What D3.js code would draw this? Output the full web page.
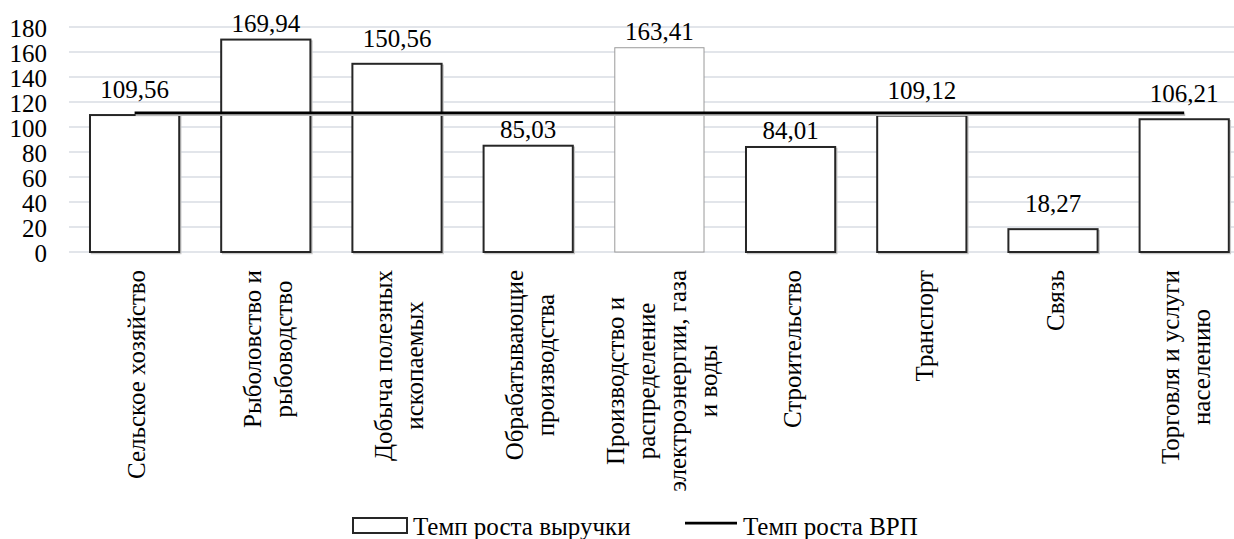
<!DOCTYPE html>
<html><head><meta charset="utf-8">
<script src="https://cdn.jsdelivr.net/npm/d3@7"></script>
<style>html,body{margin:0;padding:0;background:#fff;}svg{display:block;}
#chart{font-family:"Times New Roman","Liberation Serif",Tinos,serif;font-size:25px;}</style>
</head><body>
<svg id="chart" width="1234" height="539"></svg>
<script>
const categories = [
  ["Сельское хозяйство"],
  ["Рыболовство и", "рыбоводство"],
  ["Добыча полезных", "ископаемых"],
  ["Обрабатывающие", "производства"],
  ["Производство и", "распределение", "электроэнергии, газа", "и воды"],
  ["Строительство"],
  ["Транспорт"],
  ["Связь"],
  ["Торговля и услуги", "населению"]
];
const revenueGrowth = [109.56, 169.94, 150.56, 85.03, 163.41, 84.01, 109.12, 18.27, 106.21];
const grpGrowth = [111.4, 111.4, 111.4, 111.4, 111.4, 111.4, 111.4, 111.4, 111.4];
const yTicks = [0, 20, 40, 60, 80, 100, 120, 140, 160, 180];
const seriesNames = ["Темп роста выручки", "Темп роста ВРП"];

const FS = 25;
const svg = d3.select("#chart");
const ids = d3.range(categories.length);

const x = d3.scaleBand().domain(ids).range([69, 69 + 9 * 131.2]).paddingInner(0.32).paddingOuter(0.16);
const y = d3.scaleLinear().domain([0, 180]).range([252, 27]);

// gridlines
svg.append("g").selectAll("line").data(yTicks).join("line")
  .attr("x1", 69).attr("x2", 69 + 9 * 131.2)
  .attr("y1", d => y(d)).attr("y2", d => y(d))
  .attr("stroke", "#d9dde3").attr("stroke-width", 1.5);

// y axis labels
const yAxis = d3.axisLeft(y).tickValues(yTicks).tickSize(0).tickPadding(0);
const ga = svg.append("g").attr("transform", "translate(47,0)").call(yAxis);
ga.select(".domain").remove();
ga.attr("font-family", null).attr("font-size", null);
ga.selectAll("text").attr("fill", "#000").attr("dy", "0.38em");

// bar shadows
svg.append("g").selectAll("rect").data(ids.filter(i => i !== 4)).join("rect")
  .attr("x", i => x(i) + 1.5).attr("width", x.bandwidth())
  .attr("y", i => y(revenueGrowth[i]) + 1.5).attr("height", i => y(0) - y(revenueGrowth[i]))
  .attr("fill", "none").attr("stroke", "#c8c8c8").attr("stroke-width", 1.5);

// bars
svg.append("g").selectAll("rect").data(ids).join("rect")
  .attr("x", i => x(i)).attr("width", x.bandwidth())
  .attr("y", i => y(revenueGrowth[i])).attr("height", i => y(0) - y(revenueGrowth[i]))
  .attr("fill", "#fff")
  .attr("stroke", i => i === 4 ? "#9a9a9a" : "#262626")
  .attr("stroke-width", i => i === 4 ? 1 : 2);

// line with soft shadow
const line = d3.line().x(i => x(i) + x.bandwidth() / 2).y(i => y(grpGrowth[i]));
svg.append("path").datum(ids).attr("d", line).attr("transform", "translate(1,2)")
  .attr("fill", "none").attr("stroke", "#bdbdbd").attr("stroke-width", 2.5);
svg.append("path").datum(ids).attr("d", line)
  .attr("fill", "none").attr("stroke", "#000").attr("stroke-width", 2.75);

// data labels (above bars, nudged down if colliding with the line or the top edge)
const capH = FS * 0.68;
const lineY = y(grpGrowth[0]);
svg.append("g").selectAll("text").data(ids).join("text")
  .attr("x", i => x(i) + x.bandwidth() / 2)
  .attr("y", i => {
    const top = y(revenueGrowth[i]);
    let base = top - 17;
    const tTop = base - capH;
    if (tTop < 14 || (tTop < lineY + 3 && base + 5 > lineY - 3)) base = top - 8;
    return base;
  })
  .attr("text-anchor", "middle").attr("fill", "#000")
  .text(i => revenueGrowth[i].toFixed(2).replace(".", ","));

// category labels, rotated
const LH = 31;
const cg = svg.append("g");
ids.forEach(i => {
  const lines = categories[i];
  const cx = x(i) + x.bandwidth() / 2 + 2;
  const g = cg.append("g").attr("transform", `translate(${cx},270) rotate(-90)`);
  const ts = lines.map((t, k) => g.append("text")
    .attr("fill", "#000")
    .attr("text-anchor", "middle")
    .attr("y", (k - (lines.length - 1) / 2) * LH).attr("dy", "0.35em").text(t));
  const maxW = d3.max(ts, t => t.node().getComputedTextLength());
  ts.forEach(t => t.attr("x", -maxW / 2));
});

// legend
const lg = svg.append("g");
lg.append("rect").attr("x", 353).attr("y", 518).attr("width", 54).attr("height", 15)
  .attr("fill", "#fff").attr("stroke", "#262626").attr("stroke-width", 2);
lg.append("text").attr("x", 413).attr("y", 535).text(seriesNames[0]);
lg.append("line").attr("x1", 685).attr("x2", 737).attr("y1", 523).attr("y2", 523)
  .attr("stroke", "#000").attr("stroke-width", 2.75);
lg.append("text").attr("x", 743).attr("y", 535).text(seriesNames[1]);
</script>
</body></html>
